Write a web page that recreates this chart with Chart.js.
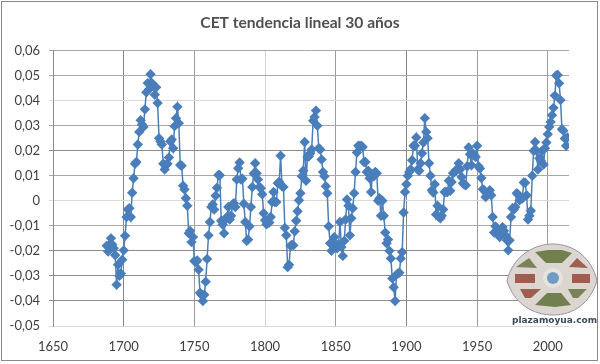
<!DOCTYPE html>
<html>
<head>
<meta charset="utf-8">
<script src="https://cdn.jsdelivr.net/npm/chart.js@4/dist/chart.umd.min.js"></script>
<style>
html, body { margin: 0; padding: 0; background: #fff; }
#wrap { position: relative; width: 600px; height: 364px; }
</style>
</head>
<body>
<div id="wrap"><canvas id="cetChart" width="600" height="364"></canvas></div>
<script>
const years = [
    1688, 1689,
    1690, 1691, 1692, 1693, 1694, 1695, 1696, 1697, 1698, 1699,
    1700, 1701, 1702, 1703, 1704, 1705, 1706, 1707, 1708, 1709,
    1710, 1711, 1712, 1713, 1714, 1715, 1716, 1717, 1718, 1719,
    1720, 1721, 1722, 1723, 1724, 1725, 1726, 1727, 1728, 1729,
    1730, 1731, 1732, 1733, 1734, 1735, 1736, 1737, 1738, 1739,
    1740, 1741, 1742, 1743, 1744, 1745, 1746, 1747, 1748, 1749,
    1750, 1751, 1752, 1753, 1754, 1755, 1756, 1757, 1758, 1759,
    1760, 1761, 1762, 1763, 1764, 1765, 1766, 1767, 1768, 1769,
    1770, 1771, 1772, 1773, 1774, 1775, 1776, 1777, 1778, 1779,
    1780, 1781, 1782, 1783, 1784, 1785, 1786, 1787, 1788, 1789,
    1790, 1791, 1792, 1793, 1794, 1795, 1796, 1797, 1798, 1799,
    1800, 1801, 1802, 1803, 1804, 1805, 1806, 1807, 1808, 1809,
    1810, 1811, 1812, 1813, 1814, 1815, 1816, 1817, 1818, 1819,
    1820, 1821, 1822, 1823, 1824, 1825, 1826, 1827, 1828, 1829,
    1830, 1831, 1832, 1833, 1834, 1835, 1836, 1837, 1838, 1839,
    1840, 1841, 1842, 1843, 1844, 1845, 1846, 1847, 1848, 1849,
    1850, 1851, 1852, 1853, 1854, 1855, 1856, 1857, 1858, 1859,
    1860, 1861, 1862, 1863, 1864, 1865, 1866, 1867, 1868, 1869,
    1870, 1871, 1872, 1873, 1874, 1875, 1876, 1877, 1878, 1879,
    1880, 1881, 1882, 1883, 1884, 1885, 1886, 1887, 1888, 1889,
    1890, 1891, 1892, 1893, 1894, 1895, 1896, 1897, 1898, 1899,
    1900, 1901, 1902, 1903, 1904, 1905, 1906, 1907, 1908, 1909,
    1910, 1911, 1912, 1913, 1914, 1915, 1916, 1917, 1918, 1919,
    1920, 1921, 1922, 1923, 1924, 1925, 1926, 1927, 1928, 1929,
    1930, 1931, 1932, 1933, 1934, 1935, 1936, 1937, 1938, 1939,
    1940, 1941, 1942, 1943, 1944, 1945, 1946, 1947, 1948, 1949,
    1950, 1951, 1952, 1953, 1954, 1955, 1956, 1957, 1958, 1959,
    1960, 1961, 1962, 1963, 1964, 1965, 1966, 1967, 1968, 1969,
    1970, 1971, 1972, 1973, 1974, 1975, 1976, 1977, 1978, 1979,
    1980, 1981, 1982, 1983, 1984, 1985, 1986, 1987, 1988, 1989,
    1990, 1991, 1992, 1993, 1994, 1995, 1996, 1997, 1998, 1999,
    2000, 2001, 2002, 2003, 2004, 2005, 2006, 2007, 2008, 2009,
    2010, 2011, 2012, 2013, 2014
];

const trend = [
    -0.018, -0.0203,
    -0.0175, -0.015, -0.0175, -0.019, -0.0217, -0.0335, -0.0255, -0.03, -0.029, -0.0235,
    -0.0198, -0.014, -0.0065, -0.0035, -0.003, -0.0065, 0.0032, 0.009, 0.0148, 0.0155,
    0.0225, 0.0275, 0.0322, 0.0305, 0.0295, 0.0365, 0.0433, 0.047, 0.0445, 0.0505,
    0.047, 0.046, 0.0423, 0.0453, 0.039, 0.025, 0.0237, 0.0225, 0.0148, 0.0125,
    0.0143, 0.0148, 0.0173, 0.0237, 0.0245, 0.021, 0.0298, 0.033, 0.0375, 0.031,
    0.0143, 0.014, 0.006, 0.0045, 0.001, -0.002, -0.013, -0.012, -0.0165, -0.0145,
    -0.024, -0.0245, -0.0238, -0.0275, -0.0367, -0.0375, -0.04, -0.0375, -0.0323, -0.0232,
    -0.0138, -0.0085, -0.0025, -0.0015, -0.0035, 0.002, 0.0052, 0.0103, 0.0102, -0.008,
    -0.0095, -0.013, -0.0075, -0.0065, -0.0025, -0.0075, -0.006, -0.0015, -0.001, -0.0025,
    0.0085, 0.013, 0.0153, 0.0085, 0.0088, -0.0012, -0.0085, -0.016, -0.0155, -0.0102,
    -0.0025, 0.0055, 0.0109, 0.015, 0.011, 0.0085, 0.0055, 0.005, 0.0026, -0.005,
    -0.0078, -0.0094, -0.0088, -0.0087, -0.0065, -0.0005, 0.0035, -0.0005, -0.0005, 0.007,
    0.0075, 0.018, 0.0058, 0.0055, -0.0108, -0.0138, -0.0265, -0.0255, -0.018, -0.0175,
    -0.0178, -0.0122, -0.008, -0.0042, 0.0002, 0.003, 0.0098, 0.012, 0.0235, 0.008,
    0.0175, 0.0178, 0.019, 0.0205, 0.032, 0.0335, 0.036, 0.03, 0.021, 0.0205,
    0.0165, 0.0115, 0.0098, 0.0058, 0.003, -0.0102, -0.017, -0.02, -0.016, -0.0145,
    -0.0185, -0.019, -0.0175, -0.0085, -0.0185, -0.022, -0.016, -0.0075, 0.0005, -0.002,
    -0.0138, -0.007, -0.003, 0.003, 0.0115, 0.0193, 0.022, 0.0218, 0.022, 0.0215,
    0.0155, 0.0155, 0.0115, 0.012, 0.009, 0.0035, 0.0105, 0.0098, 0.0115, 0.011,
    0, 0.001, -0.006, 0, -0.006, -0.0127, -0.017, -0.0155, -0.02, -0.023,
    -0.031, -0.0345, -0.04, -0.0295, -0.029, -0.0287, -0.023, -0.0205, -0.0047, 0.0035,
    0.0066, 0.01, 0.0115, 0.0126, 0.0162, 0.022, 0.022, 0.0253, 0.0125, 0.012,
    0.015, 0.019, 0.0233, 0.033, 0.0275, 0.025, 0.015, 0.01, 0.0042, 0.0033,
    0.0066, -0.0055, -0.002, -0.0065, -0.007, -0.006, -0.0035, 0.0035, 0.0035, 0.0035,
    0.008, 0.004, 0.0075, 0.011, 0.0115, 0.0122, 0.0125, 0.015, 0.0125, 0.0095,
    0.007, 0.0065, 0.0062, 0.0138, 0.0213, 0.0186, 0.0142, 0.0189, 0.0182, 0.0175,
    0.022, 0.0138, 0.0129, 0.0091, 0.0046, 0.0042, 0.0015, 0.0022, 0.003, 0.0042,
    0.0022, -0.0065, -0.0127, -0.0102, -0.012, -0.0127, -0.0145, -0.012, -0.0105, -0.012,
    -0.0138, -0.0158, -0.0198, -0.0158, -0.0065, -0.003, -0.0035, -0.0025, 0.003, 0.0025,
    0.0002, 0.0012, 0.0009, 0.0073, 0.0072, 0.0022, -0.0075, -0.006, -0.004, 0.01,
    0.02, 0.0235, 0.02, 0.0125, 0.017, 0.016, 0.02, 0.0145, 0.021, 0.0233,
    0.0266, 0.0295, 0.0315, 0.0342, 0.0371, 0.042, 0.05, 0.0502, 0.0469, 0.0402,
    0.0286, 0.028, 0.0249, 0.022, 0.0253
];

const xTicks = [1650, 1700, 1750, 1800, 1850, 1900, 1950, 2000];
const yTicks = [-0.05, -0.04, -0.03, -0.02, -0.01, 0, 0.01, 0.02, 0.03, 0.04, 0.05, 0.06];

const textColor = '#404040';
const bodyFont = 'Lato, "Open Sans", sans-serif';

function polygon(ctx, pts, fill) {
    ctx.beginPath();
    pts.forEach(function (p, i) {
        if (i === 0) ctx.moveTo(p[0], p[1]);
        else ctx.lineTo(p[0], p[1]);
    });
    ctx.closePath();
    ctx.fillStyle = fill;
    ctx.fill();
}

// outer frame of the chart
const framePlugin = {
    id: 'frame',
    beforeDraw: function (chart) {
        const ctx = chart.ctx;
        ctx.save();
        ctx.fillStyle = '#fff';
        ctx.fillRect(0, 0, 600, 364);
        ctx.strokeStyle = '#8a8a8a';
        ctx.lineWidth = 1;
        ctx.strokeRect(1.5, 1.5, 596, 359);
        ctx.restore();
    }
};

// plaza stamp in the bottom right corner
const logoPlugin = {
    id: 'logo',
    afterDraw: function (chart) {
        const ctx = chart.ctx;
        ctx.save();

        ctx.fillStyle = '#fff';
        ctx.fillRect(505, 315, 64, 10);

        ctx.filter = 'blur(0.7px)';
        ctx.beginPath();
        ctx.moveTo(507, 281);
        ctx.bezierCurveTo(512, 258, 532, 244, 553, 244);
        ctx.bezierCurveTo(574, 244, 592, 258, 597, 281);
        ctx.bezierCurveTo(590, 303, 574, 315, 553, 315);
        ctx.bezierCurveTo(532, 315, 514, 303, 507, 281);
        ctx.closePath();
        ctx.fillStyle = '#dcd6d0';
        ctx.fill();
        ctx.strokeStyle = '#9892a8';
        ctx.lineWidth = 1;
        ctx.stroke();

        polygon(ctx, [[535, 252], [548, 250], [562, 250], [572, 253], [562, 263], [546, 263]], '#727f4f');
        polygon(ctx, [[535, 305], [547, 293], [561, 293], [571, 305], [555, 307]], '#727f4f');
        polygon(ctx, [[516, 267], [529, 258], [537, 268]], '#7a8358');
        polygon(ctx, [[569, 267], [577, 258], [588, 268]], '#9c5f50');
        polygon(ctx, [[520, 289], [541, 289], [531, 298], [525, 298]], '#9c5f50');
        polygon(ctx, [[568, 289], [587, 289], [578, 298], [573, 298]], '#7a8358');
        polygon(ctx, [[515, 274], [535, 274], [535, 283], [515, 283]], '#a25c4f');
        polygon(ctx, [[572, 274], [590, 274], [590, 283], [572, 283]], '#a25c4f');

        ctx.beginPath();
        ctx.arc(553, 278, 10, 0, Math.PI * 2);
        ctx.fillStyle = '#e8e2dc';
        ctx.fill();
        ctx.beginPath();
        ctx.arc(553, 278, 6, 0, Math.PI * 2);
        ctx.fillStyle = '#6f9cc4';
        ctx.fill();
        ctx.filter = 'none';

        ctx.fillStyle = '#3c4a5a';
        ctx.font = 'bold 9px "DejaVu Sans", sans-serif';
        ctx.textAlign = 'left';
        ctx.textBaseline = 'middle';
        ctx.fillText('plazamoyua.com', 512, 321);
        ctx.restore();
    }
};

// the reference has uneven grid lines, some lighter and wider than others
function xGridColor(ctx) {
    const v = ctx.tick && ctx.tick.value;
    if (v === 1800) return '#d4d4d4';
    if (v === 1700 || v === 1900) return '#858585';
    return '#9c9c9c';
}

function yGridColor(ctx) {
    const v = ctx.tick && ctx.tick.value;
    if (v === 0 || v === 0.04 || v === -0.05) return '#d9d9d9';
    if (v === 0.02 || v === -0.02 || v === -0.03 || v === -0.04) return '#8c8c8c';
    return '#a8a8a8';
}

new Chart(document.getElementById('cetChart').getContext('2d'), {
    type: 'scatter',
    data: {
        datasets: [{
            data: years.map(function (year, i) { return { x: year, y: trend[i] }; }),
            showLine: true,
            borderColor: '#4a7ebb',
            borderWidth: 1.5,
            backgroundColor: '#4a7ebb',
            pointStyle: 'rectRot',
            pointRadius: 5.2,
            pointBorderWidth: 0,
            tension: 0
        }]
    },
    options: {
        responsive: false,
        animation: false,
        layout: { padding: 0 },
        plugins: {
            legend: { display: false },
            tooltip: { enabled: false },
            title: {
                display: true,
                text: 'CET tendencia lineal 30 años',
                color: '#505050',
                font: { family: bodyFont, size: 15.6, weight: 'bold', lineHeight: 1.2 },
                padding: { top: 14, bottom: 17.8 }
            }
        },
        scales: {
            x: {
                type: 'linear',
                min: 1650,
                max: 2015,
                afterBuildTicks: function (scale) {
                    scale.ticks = xTicks.map(function (v) { return { value: v }; });
                },
                afterFit: function (scale) { scale.height = 38; },
                grid: { color: xGridColor, lineWidth: 1, drawTicks: false },
                border: { display: false },
                ticks: {
                    color: textColor,
                    font: { family: bodyFont, size: 13 },
                    padding: 13,
                    maxRotation: 0,
                    callback: function (v) { return String(v); }
                }
            },
            y: {
                type: 'linear',
                min: -0.05,
                max: 0.06,
                afterBuildTicks: function (scale) {
                    scale.ticks = yTicks.map(function (v) { return { value: v }; });
                },
                afterFit: function (scale) { scale.width = 53; },
                grid: { color: yGridColor, lineWidth: 1, tickLength: 4 },
                border: { display: true, color: '#8c8c8c' },
                ticks: {
                    color: textColor,
                    font: { family: bodyFont, size: 13 },
                    padding: 9,
                    callback: function (v) {
                        return v === 0 ? '0' : v.toFixed(2).replace('.', ',');
                    }
                }
            },
            // empty axis, only keeps the right margin while the title stays centred on the page
            rightGap: {
                type: 'linear',
                position: 'right',
                afterFit: function (scale) { scale.width = 31; },
                grid: { display: false },
                border: { display: false },
                ticks: { display: false }
            }
        }
    },
    plugins: [framePlugin, logoPlugin]
});
</script>
</body>
</html>
